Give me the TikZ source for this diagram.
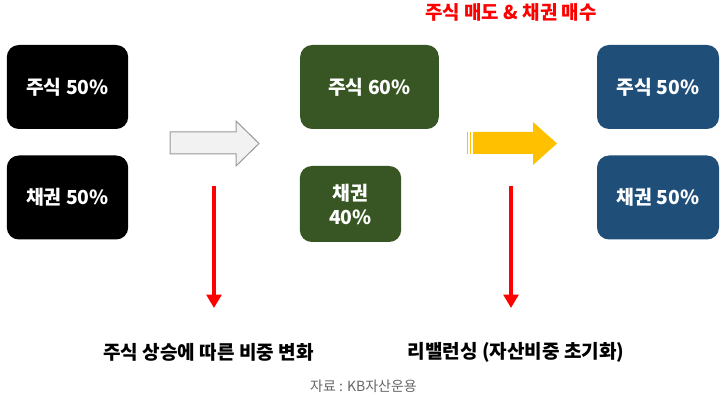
\documentclass[tikz,border=0pt]{standalone}
\usepackage{fontspec}
\setmainfont{Noto Sans CJK KR}
\usetikzlibrary{arrows.meta,positioning}
\definecolor{boxgreen}{HTML}{375623}
\definecolor{boxblue}{HTML}{1F4E79}
\definecolor{arrowyellow}{HTML}{FFC000}
\definecolor{arrowgray}{HTML}{F2F2F2}

\begin{document}
\begin{tikzpicture}[x=0.75pt,y=-0.75pt,
      box_st/.style={
         rounded corners=9pt,
         text=white,
         inner sep=0pt,
         align=center,
         minimum height=63pt,
         font=\bfseries\fontsize{14.5}{18}\selectfont},
      box_black/.style={
         box_st,
         fill=black,
         minimum width=91pt},
      box_green/.style={
         box_st,
         fill=boxgreen},
      box_blue/.style={
         box_st,
         fill=boxblue,
         minimum width=91.5pt},
      arrow_red/.style={
         -{Triangle[width=11pt,length=10pt]},
         draw=red,
         line width=3pt,
         },
      caption_txt/.style={
         font=\bfseries\fontsize{14.3}{17}\selectfont}
]
      \useasboundingbox (0,0) rectangle (728,402);

      %before
      \node[box_black] (s1) at (67.5,87) {주식 50\%};
      \node[box_black] (b1) at (67.5,197.5) {채권 50\%};

      %after rise
      \node[box_green,minimum width=104pt] (s2) at (369.5,87) {주식 60\%};
      \node[box_green,minimum width=76pt,minimum height=57pt] (b2) at (350.5,204) {채권\\40\%};

      %rebalanced
      \node[box_blue] (s3) at (658,87) {주식 50\%};
      \node[box_blue] (b3) at (658,197.5) {채권 50\%};

      \node[font=\bfseries\fontsize{14.2}{17}\selectfont,text=red] (title) at (511,12) {주식 매도 \& 채권 매수};

      %block arrows
      \draw[fill=arrowgray,draw=gray!80,line width=0.75pt]
         (170,132) -- (236,132) -- (236,121) -- (259,143.5) -- (236,166) -- (236,154) -- (170,154) -- cycle;
      \fill[arrowyellow]
         (474,132) -- (533,132) -- (533,122) -- (557,143.5) -- (533,165) -- (533,154) -- (474,154) -- cycle;
      \foreach \x in {466.5,469.5,472.5}
        \fill[arrowyellow] (\x,132) rectangle ++(1.8,22);

      \node[caption_txt] (c1) at (208.5,352) {주식 상승에 따른 비중 변화};
      \node[caption_txt] (c2) at (516,352) {리밸런싱 (자산비중 초기화)};
      \node[font=\fontsize{10.5}{12}\selectfont,text=gray!80!black] (src) at (363.5,386) {자료 : KB자산운용};

      \coordinate (r1) at (214,186);
      \coordinate (r1e) at (214,308);
      \coordinate (r2) at (511,186);
      \coordinate (r2e) at (511,308);
      \foreach \i/\j in {r1/r1e, r2/r2e}
        \draw[arrow_red] (\i) -- (\j);
\end{tikzpicture}
\end{document}
